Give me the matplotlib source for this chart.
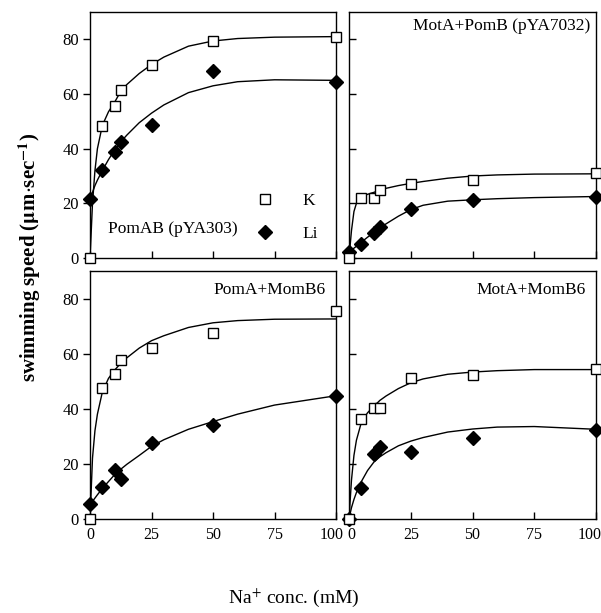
import matplotlib
matplotlib.use("Agg")
import matplotlib.pyplot as plt
import matplotlib.transforms as mtransforms
from matplotlib.lines import Line2D

plt.rcParams['font.family'] = ['Liberation Serif', 'DejaVu Serif']
plt.rcParams['mathtext.fontset'] = 'stix'

# --- measured points (Na+ conc. in mM) ---
conc = [0, 5, 10, 12.5, 25, 50, 100]

pomab_k = [0, 48.3, 55.5, 61.5, 70.5, 79.5, 80.8]
pomab_li = [21.5, 32.1, 38.8, 42.5, 48.7, 68.4, 64.5]
motpomb_k = [0, 22, 22, 25, 27, 28.7, 31.1]
motpomb_li = [2.3, 5, 9, 11.2, 18, 21.2, 22.4]
pomamomb_k = [0, 47.5, 52.6, 57.6, 62.1, 67.6, 75.4]
pomamomb_li = [5.2, 11.6, 17.8, 14.6, 27.4, 34.2, 44.7]
motmomb_k = [0, 36.1, 40.3, 40.3, 51, 52.4, 54.4]
motmomb_li = [0, 11.3, 23.5, 25.9, 24.3, 29.5, 32.3]

# --- fitted curves ---
fit_x = [0, 1, 2, 3, 5, 7.5, 10, 12.5, 15, 20, 25, 30, 40, 50, 60, 75, 100]

fit_pomab_k = [0, 20, 32, 40, 48.5, 53.5, 57, 61, 63.5, 67.5, 70.8, 73.5, 77.5, 79.4, 80.3, 80.8, 81]
fit_pomab_li = [21.5, 24, 26.5, 28.5, 32, 36, 39.5, 42.5, 45, 49.5, 53, 56, 60.5, 63, 64.5, 65.2, 65]
fit_motpomb_k = [0, 10, 17, 20, 22.3, 23.3, 24, 24.8, 25.5, 26.5, 27.3, 28, 29.2, 30, 30.4, 30.7, 30.8]
fit_motpomb_li = [2, 2.8, 3.6, 4.3, 5.8, 7.6, 9.3, 11, 12.5, 15.3, 17.7, 19.3, 20.8, 21.3, 21.7, 22.1, 22.5]
fit_pomamomb_k = [0, 22, 32, 38, 46, 51, 54, 56.5, 58.5, 62, 64.7, 66.5, 69.5, 71.2, 72, 72.5, 72.6]
fit_pomamomb_li = [5, 6.3, 7.5, 8.7, 11, 13.5, 16, 18, 19.8, 23, 26.3, 28.7, 32.5, 35.3, 38, 41.3, 44.7]
fit_motmomb_k = [0, 14, 23, 28.5, 35, 38.5, 40.8, 43, 44.6, 47.3, 49.4, 50.8, 52.5, 53.3, 53.8, 54.2, 54.2]
fit_motmomb_li = [0, 4, 7, 9.5, 13.5, 17.5, 20.5, 22.5, 24, 26.5, 28.2, 29.5, 31.5, 32.6, 33.3, 33.5, 32.5]

panels = [
    ("PomAB (pYA303)", pomab_k, pomab_li, fit_pomab_k, fit_pomab_li),
    ("MotA+PomB (pYA7032)", motpomb_k, motpomb_li, fit_motpomb_k, fit_motpomb_li),
    ("PomA+MomB6", pomamomb_k, pomamomb_li, fit_pomamomb_k, fit_pomamomb_li),
    ("MotA+MomB6", motmomb_k, motmomb_li, fit_motmomb_k, fit_motmomb_li),
]

xticks = [0, 25, 50, 75, 100]
yticks = [0, 20, 40, 60, 80]

fig = plt.figure(figsize=(6.01, 6.13), dpi=100)

# axes boxes in figure fractions
boxes = [
    (0.1498, 0.5791, 0.4093, 0.4013),
    (0.5807, 0.5791, 0.4110, 0.4013),
    (0.1498, 0.1538, 0.4093, 0.4040),
    (0.5807, 0.1538, 0.4110, 0.4040),
]

sq = dict(marker='s', ms=7.5, mfc='white', mec='black', mew=1.0, ls='none', clip_on=False, zorder=4)
dm = dict(marker='D', ms=7.5, mfc='black', mec='black', ls='none', clip_on=False, zorder=3)

axes = []
for i, (title, k, li, fk, fli) in enumerate(panels):
    ax = fig.add_axes(boxes[i])
    axes.append(ax)
    ax.plot(fit_x, fk, color='black', lw=1.0, zorder=2)
    ax.plot(fit_x, fli, color='black', lw=1.0, zorder=2)
    ax.plot(conc, li, **dm)
    ax.plot(conc, k, **sq)
    ax.set_xlim(0, 100)
    ax.set_ylim(0, 90)
    ax.set_xticks(xticks)
    ax.set_yticks(yticks)
    for s in ax.spines.values():
        s.set_linewidth(1.0)
    left = (i % 2 == 0)
    bottom = (i >= 2)
    ax.tick_params(axis='x', direction='in', length=5, width=1.0, labelsize=11.5,
                   labelbottom=bottom, pad=6)
    ax.tick_params(axis='y', direction='out' if left else 'in', length=5, width=1.0,
                   labelsize=12, labelleft=left, pad=3)

    if i == 0:
        ax.text(0.073, 0.118, title, transform=ax.transAxes, fontsize=12.5,
                ha='left', va='center')
    elif i == 1:
        ax.text(0.976, 0.943, title, transform=ax.transAxes, fontsize=12.5,
                ha='right', va='center')
    else:
        ax.text(0.958, 0.923, title, transform=ax.transAxes, fontsize=12.5,
                ha='right', va='center')

# nudge the crowded "100" labels so they stay clear of the neighbour / edge
fig.canvas.draw()
for ax, dx in ((axes[2], -4), (axes[3], -6)):
    lab = ax.get_xticklabels()[-1]
    lab.set_transform(lab.get_transform() +
                      mtransforms.ScaledTranslation(dx / 100, 0, fig.dpi_scale_trans))
lab0 = axes[3].get_xticklabels()[0]
lab0.set_transform(lab0.get_transform() +
                   mtransforms.ScaledTranslation(2 / 100, 0, fig.dpi_scale_trans))

handles = [Line2D([], [], **sq), Line2D([], [], **dm)]
axes[0].legend(handles, ['K', 'Li'], loc='center left', bbox_to_anchor=(0.675, 0.165),
               frameon=False, fontsize=12.5, handlelength=1.0, handletextpad=1.7,
               labelspacing=1.0, borderpad=0, borderaxespad=0)

fig.text(0.05, 0.58, r'swimming speed ($\mathbf{\mu}$m$\cdot$sec$^{\mathbf{-1}}$)',
         rotation=90, ha='center', va='center', fontsize=15, fontweight='bold')
fig.text(0.488, 0.025, r'Na$^{+}$ conc. (mM)', ha='center', va='center', fontsize=14)

fig.savefig("out.png", dpi=100)
